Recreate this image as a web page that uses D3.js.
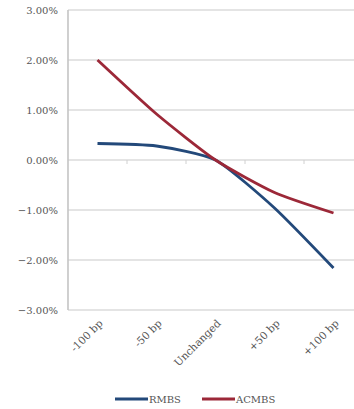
<!DOCTYPE html>
<html>
<head>
<meta charset="utf-8">
<script src="https://cdn.jsdelivr.net/npm/d3@7"></script>
<style>
  body { margin: 0; background: #fff; }
  text { font-family: "DejaVu Serif", "Liberation Serif", serif; fill: #555; }
</style>
</head>
<body>
<div id="chart"></div>
<script>
const categories = ["-100 bp", "-50 bp", "Unchanged", "+50 bp", "+100 bp"];
const rmbs = [0.33, 0.28, 0.0, -0.96, -2.16];
const acmbs = [2.0, 0.92, 0.0, -0.65, -1.06];
const yTicks = [3, 2, 1, 0, -1, -2, -3];
const seriesNames = ["RMBS", "ACMBS"];
const seriesColors = ["#23497a", "#9c2838"];

const width = 354, height = 409;
const svg = d3.select("#chart").append("svg")
    .attr("width", width)
    .attr("height", height);

const x = d3.scalePoint()
    .domain(categories)
    .range([97.5, 333.5]);
const step = x.step();

const y = d3.scaleLinear()
    .domain([-3, 3])
    .range([310, 10]);

// gridlines
svg.append("g")
    .selectAll("line")
    .data(yTicks)
    .enter().append("line")
    .attr("x1", 68).attr("x2", width)
    .attr("y1", d => y(d)).attr("y2", d => y(d))
    .attr("stroke", "#c9c9c9")
    .attr("stroke-width", 1.2);

// y axis line
svg.append("line")
    .attr("x1", 68).attr("x2", 68)
    .attr("y1", y(3)).attr("y2", y(-3))
    .attr("stroke", "#c4c4c4")
    .attr("stroke-width", 1.6);

// category tick marks on zero line
svg.append("g")
    .selectAll("line")
    .data(categories.slice(0, -1))
    .enter().append("line")
    .attr("x1", d => x(d) + step / 2).attr("x2", d => x(d) + step / 2)
    .attr("y1", y(0)).attr("y2", y(0) + 4)
    .attr("stroke", "#d0d0d0");

// y tick labels
svg.append("g")
    .selectAll("text")
    .data(yTicks)
    .enter().append("text")
    .attr("x", 58)
    .attr("y", d => y(d))
    .attr("dy", "0.35em")
    .attr("text-anchor", "end")
    .style("font-size", "10px")
    .text(d => d3.format(".2f")(d) + "%");

// category labels
svg.append("g")
    .selectAll("text")
    .data(categories)
    .enter().append("text")
    .attr("text-anchor", "end")
    .attr("transform", d => `translate(${x(d) + 6},${324}) rotate(-45)`)
    .style("font-size", "10.5px")
    .text(d => d);

const line = d3.line()
    .x((d, i) => x(categories[i]))
    .y(d => y(d))
    .curve(d3.curveCardinal.tension(0.4));

[rmbs, acmbs].forEach((s, i) => {
    svg.append("path")
        .datum(s)
        .attr("fill", "none")
        .attr("stroke", seriesColors[i])
        .attr("stroke-width", 2.8)
        .attr("stroke-linejoin", "round")
        .attr("d", line);
});

// legend
const legendX = [115, 202];
const legend = svg.append("g");
seriesNames.forEach((name, i) => {
    legend.append("line")
        .attr("x1", legendX[i]).attr("x2", legendX[i] + 33)
        .attr("y1", 399).attr("y2", 399)
        .attr("stroke", seriesColors[i])
        .attr("stroke-width", 3);
    legend.append("text")
        .attr("x", legendX[i] + 34)
        .attr("y", 399)
        .attr("dy", "0.35em")
        .style("font-size", "10px")
        .text(name);
});
</script>
</body>
</html>
